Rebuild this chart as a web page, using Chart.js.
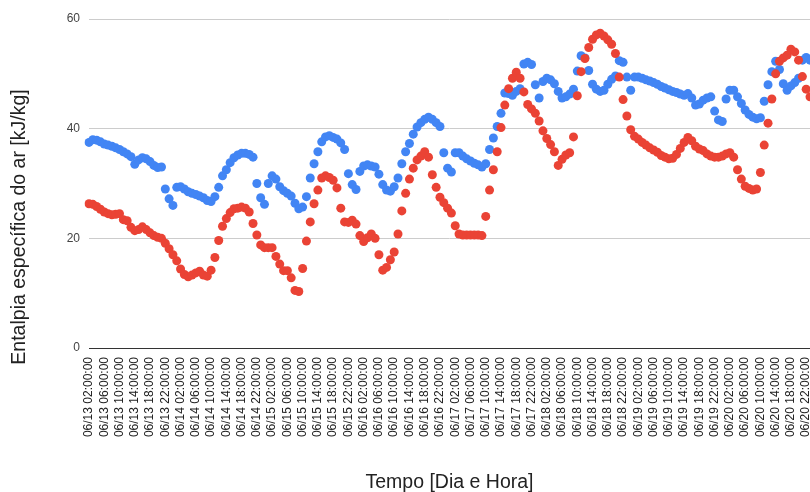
<!DOCTYPE html>
<html>
<head>
<meta charset="utf-8">
<script src="https://cdn.jsdelivr.net/npm/chart.js@4.4.0/dist/chart.umd.min.js"></script>
<style>
  html, body { margin: 0; padding: 0; background: #fff; overflow: hidden; }
  #wrap { width: 810px; height: 492px; overflow: hidden; }
</style>
</head>
<body>
<div id="wrap"><canvas id="chart" width="830" height="492"></canvas></div>
<script>
// categorias horarias: 06/13 02:00 ate 06/20 23:00
const categorias = [];
for (let d = 13; d <= 20; d++) {
  for (let h = 0; h < 24; h++) {
    if (d === 13 && h < 2) continue;
    categorias.push("06/" + d + " " + String(h).padStart(2, "0") + ":00:00");
  }
}

// serie azul
const entalpiaA = [
  37.5, 38.0, 37.9, 37.6, 37.2, 37.0, 36.8, 36.5, 36.2, 35.8,
  35.4, 34.9, 33.5, 34.3, 34.7, 34.5, 34.0, 33.3, 32.9, 33.0,
  29.0, 27.2, 26.0, 29.3, 29.4, 29.0, 28.5, 28.2, 28.0, 27.7,
  27.4, 26.9, 26.7, 27.6, 29.3, 31.4, 32.5, 33.8, 34.7, 35.2,
  35.5, 35.5, 35.3, 34.8, 30.0, 27.4, 26.2, 30.0, 31.4, 30.8,
  29.4, 28.7, 28.2, 27.7, 26.4, 25.4, 25.7, 27.6, 31.0, 33.6,
  35.8, 37.6, 38.5, 38.7, 38.4, 38.1, 37.4, 36.2, 31.8, 29.8,
  28.9, 32.2, 33.2, 33.4, 33.2, 33.0, 31.7, 29.8, 28.8, 28.6,
  29.4, 31.0, 33.6, 35.8, 37.3, 39.0, 40.3, 41.1, 41.7, 42.1,
  41.7, 41.1, 40.4, 35.6, 32.8, 32.1, 35.6, 35.6, 35.0, 34.5,
  34.1, 33.7, 33.4, 33.0, 33.6, 36.2, 38.3, 40.4, 42.8, 46.5,
  46.4, 46.1, 46.8, 47.3, 51.8, 52.1, 51.7, 48.0, 45.6, 48.6,
  49.2, 48.9, 48.2, 46.8, 45.6, 45.8, 46.3, 47.2, 50.5, 53.3,
  52.9, 50.6, 48.1, 47.2, 46.8, 47.0, 48.1, 49.0, 49.6, 52.4,
  52.1, 49.4, 47.0, 49.4, 49.4, 49.2, 48.9, 48.7, 48.4, 48.1,
  47.7, 47.4, 47.1, 46.8, 46.6, 46.3, 46.1, 46.4, 45.6, 44.3,
  44.5, 45.2, 45.6, 45.8, 43.2, 41.6, 41.3, 45.4, 47.0, 47.0,
  45.8, 44.6, 43.4, 42.6, 42.1, 41.8, 42.0, 45.0, 48.0, 50.4,
  52.3, 50.8, 48.2, 47.0, 47.8, 48.4, 49.2, 52.5, 53.0, 52.5
];

// serie vermelha
const entalpiaB = [
  26.3, 26.2, 25.8, 25.3, 24.8, 24.5, 24.3, 24.4, 24.5, 23.4,
  23.2, 22.0, 21.4, 21.6, 22.1, 21.6, 21.0, 20.5, 20.2, 20.0,
  19.1, 18.1, 17.0, 15.9, 14.4, 13.4, 13.0, 13.3, 13.7, 14.0,
  13.3, 13.1, 14.2, 16.5, 19.6, 22.2, 23.6, 24.7, 25.4, 25.5,
  25.7, 25.5, 24.8, 22.7, 20.6, 18.8, 18.3, 18.3, 18.3, 16.7,
  15.3, 14.1, 14.1, 12.8, 10.5, 10.3, 14.5, 19.5, 23.0, 26.3,
  28.8, 31.0, 31.4, 31.1, 30.6, 29.2, 25.5, 23.0, 22.9, 23.3,
  22.6, 20.5, 19.4, 20.1, 20.8, 20.0, 17.0, 14.2, 14.7, 16.1,
  17.5, 20.8, 25.0, 28.2, 30.8, 32.8, 34.3, 35.0, 35.8, 34.8,
  31.6, 29.3, 27.5, 26.5, 25.5, 24.6, 22.3, 20.8, 20.6, 20.6,
  20.6, 20.6, 20.6, 20.5, 24.0, 28.8, 32.5, 35.8, 40.2, 44.3,
  47.3, 49.2, 50.3, 49.2, 46.7, 44.4, 43.6, 42.8, 41.4, 39.6,
  38.2, 37.1, 35.8, 33.3, 34.4, 35.2, 35.6, 38.5, 46.0, 50.4,
  52.8, 54.8, 56.3, 57.1, 57.4, 56.9, 56.2, 55.4, 53.7, 49.4,
  45.3, 42.3, 39.8, 38.6, 38.1, 37.5, 37.0, 36.5, 36.1, 35.7,
  35.1, 34.8, 34.5, 34.6, 35.3, 36.4, 37.5, 38.4, 37.8, 36.8,
  36.3, 36.0, 35.4, 35.0, 34.8, 34.8, 35.0, 35.4, 35.6, 34.8,
  32.5, 30.8, 29.5, 29.1, 28.8, 29.0, 32.0, 37.0, 41.0, 45.4,
  50.0, 52.3, 52.9, 53.4, 54.5, 54.0, 52.5, 49.5, 47.2, 45.8
];

const yTicks = [0, 20, 40, 60];
const tituloY = "Entalpia específica do ar [kJ/kg]";
const tituloX = "Tempo [Dia e Hora]";

const fonte = '"Liberation Sans", Arial, sans-serif';

// titulo do eixo y desenhado a mao para ficar na mesma altura do original
const tituloYPlugin = {
  id: "tituloY",
  afterDraw(chart) {
    const ctx = chart.ctx;
    ctx.save();
    ctx.translate(20, 227);
    ctx.rotate(-Math.PI / 2);
    ctx.font = "19.5px " + fonte;
    ctx.fillStyle = "#222";
    ctx.textAlign = "center";
    ctx.textBaseline = "middle";
    ctx.fillText(tituloY, 0, 0);
    ctx.restore();
  }
};

const ctx = document.getElementById("chart").getContext("2d");
new Chart(ctx, {
  type: "line",
  data: {
    labels: categorias,
    datasets: [
      {
        data: entalpiaB,
        showLine: false,
        pointRadius: 4.5,
        pointHoverRadius: 4.5,
        pointBorderWidth: 0,
        pointBackgroundColor: "#ea4335",
        borderColor: "#ea4335",
        order: 0
      },
      {
        data: entalpiaA,
        showLine: false,
        pointRadius: 4.5,
        pointHoverRadius: 4.5,
        pointBorderWidth: 0,
        pointBackgroundColor: "#4285f4",
        borderColor: "#4285f4",
        order: 1
      }
    ]
  },
  options: {
    responsive: false,
    animation: false,
    events: [],
    layout: { padding: { left: 0, top: 19, right: 20, bottom: 0 } },
    plugins: { legend: { display: false }, tooltip: { enabled: false } },
    scales: {
      x: {
        grid: { display: false },
        border: { display: true, color: "#333", width: 1 },
        ticks: {
          autoSkip: false,
          minRotation: 90,
          maxRotation: 90,
          padding: 1,
          color: "#222",
          font: { family: fonte, size: 12 },
          callback: function (val, idx) {
            return idx % 4 === 0 ? this.getLabelForValue(val) : "";
          }
        },
        title: {
          display: true,
          text: tituloX,
          color: "#222",
          font: { family: fonte, size: 19.5, lineHeight: 1 },
          padding: 0
        },
        afterFit: (scale) => { scale.height = 144; }
      },
      y: {
        min: 0,
        max: 60,
        afterBuildTicks: (scale) => { scale.ticks = yTicks.map(v => ({ value: v })); },
        grid: {
          drawTicks: false,
          color: (c) => (c.tick && c.tick.value === 0 ? "#333" : "#cccccc")
        },
        border: { display: false },
        ticks: {
          padding: 9,
          color: "#444",
          font: { family: fonte, size: 12 }
        },
        afterFit: (scale) => { scale.width = 89; }
      }
    }
  },
  plugins: [tituloYPlugin]
});
</script>
</body>
</html>
